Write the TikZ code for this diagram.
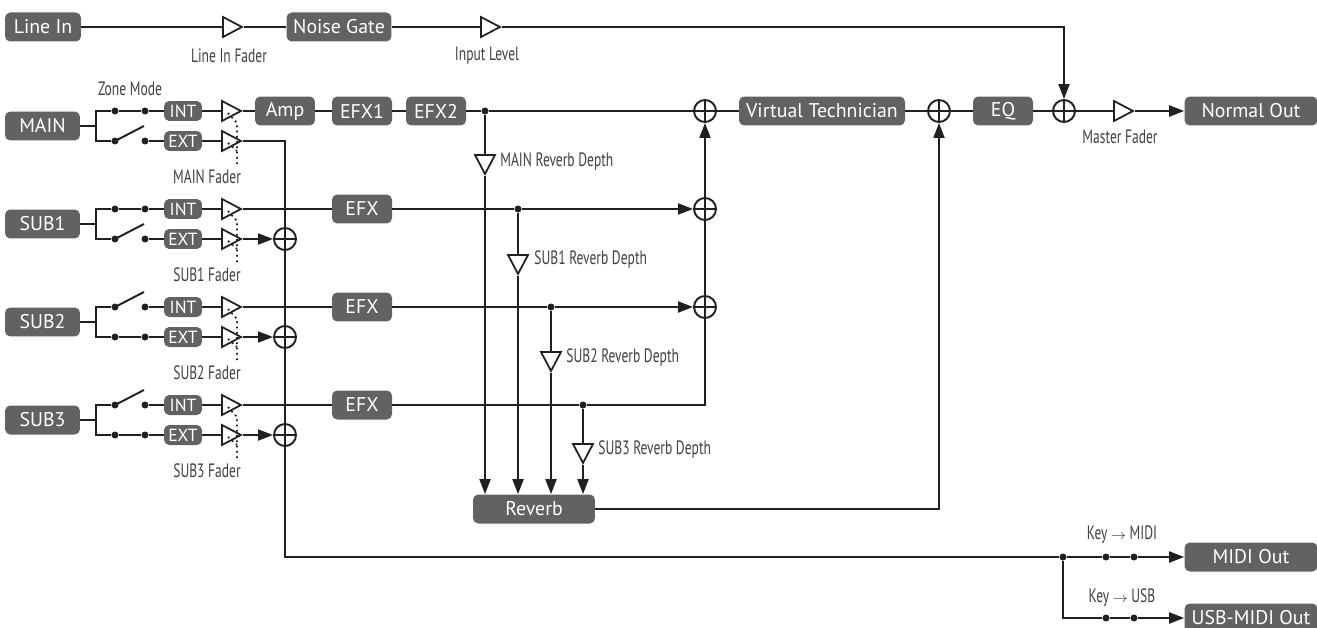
\documentclass[tikz,border=0pt]{standalone}
\usepackage{fontspec}
\setmainfont{PT Sans}
\newfontfamily\lblfont[FakeStretch=0.7]{PT Sans}
\usepackage{tikz}
\usetikzlibrary{shapes.geometric, arrows.meta, positioning, calc}
\definecolor{boxgray}{RGB}{98,98,98}
\definecolor{mydark}{RGB}{35,31,32}
\definecolor{lblgray}{RGB}{64,64,66}
\tikzset{
  block/.style={rectangle, fill=boxgray, text=white, align=center,
    minimum height=0.58cm, inner sep=0pt,
    font=\fontsize{11.3}{12}\selectfont, rounded corners=3pt},
  modebox/.style={rectangle, fill=boxgray, text=white, minimum width=0.76cm,
    minimum height=0.4cm, inner sep=0pt,
    font=\fontsize{10}{10}\selectfont, rounded corners=3pt},
  fader/.style={isosceles triangle, isosceles triangle stretches, draw=mydark,
    fill=white, line width=1pt, minimum width=0.4cm, minimum height=0.38cm,
    inner sep=0pt},
  dfader/.style={fader, shape border rotate=270},
  sumjunc/.style={circle, draw=mydark, fill=white, line width=1.1pt,
    minimum size=0.44cm, inner sep=0pt,
    path picture={\draw[mydark, line width=1.1pt]
      (path picture bounding box.north) -- (path picture bounding box.south)
      (path picture bounding box.west) -- (path picture bounding box.east);}},
  dot/.style={circle, fill=mydark, inner sep=0pt, minimum size=0.14cm},
  lbl/.style={font=\lblfont\fontsize{11}{12}\selectfont, text=lblgray, inner sep=0pt},
  arrow/.style={-{Triangle[length=0.3cm, width=0.22cm]}, line width=1.1pt, color=mydark},
  line/.style={line width=1.1pt, color=mydark},
  linkdot/.style={dotted, line width=1pt, color=mydark}
}
\begin{document}
\begin{tikzpicture}[x=0.02cm, y=-0.02cm]
  \useasboundingbox (0,0) rectangle (1317,628);

  % line input
  \node[block, minimum width=1.52cm] (linein) at (43,27) {Line In};
  \node[fader] (lfader) at (229,27) {};
  \node[block, minimum width=2.1cm] (ngate) at (339,27) {Noise Gate};
  \node[fader] (ilevel) at (487,27) {};
  \node[lbl] at (229,56) {Line In Fader};
  \node[lbl] at (487,56) {Input Level};

  % zone channels
  \node[lbl] at (130,89) {Zone Mode};
  \foreach \ch/\name/\y/\intsw in {0/MAIN/111/1, 1/SUB1/209/1, 2/SUB2/307/0, 3/SUB3/405/0}{
    \node[block, minimum width=1.5cm] (ch\ch) at (42.5,\y+15) {\name};
    \coordinate (sp\ch) at (96,\y+15);
    \node[dot] (ia\ch) at (115,\y) {};
    \node[dot] (ib\ch) at (145,\y) {};
    \node[dot] (ea\ch) at (115,\y+30) {};
    \node[dot] (eb\ch) at (145,\y+30) {};
    \coordinate (il\ch) at (144,\y-15);
    \coordinate (el\ch) at (144,\y+15);
    \node[modebox] (int\ch) at (183,\y) {INT};
    \node[modebox] (ext\ch) at (183,\y+30) {EXT};
    \node[fader] (intf\ch) at (228,\y) {};
    \node[fader] (extf\ch) at (228,\y+30) {};
    \node[lbl] at (207,\y+66) {\name\ Fader};
    \draw[line] (ch\ch) -- (sp\ch);
    \draw[line] (ia\ch) -| (sp\ch) |- (ea\ch);
    \ifnum\intsw=1
      \draw[line] (ia\ch) -- (ib\ch);
      \draw[line] (ea\ch.center) -- (el\ch);
    \else
      \draw[line] (ia\ch.center) -- (il\ch);
      \draw[line] (ea\ch) -- (eb\ch);
    \fi
    \draw[line] (ib\ch) -- (int\ch) -- (intf\ch);
    \draw[line] (eb\ch) -- (ext\ch) -- (extf\ch);
    \draw[linkdot] (intf\ch.center) ++(0,2) -- ++(9,10) -- (237,\y+55);
    \draw[linkdot] (extf\ch.center) ++(0,2) -- ++(9,8);
  }

  % main path
  \node[block, minimum width=1.2cm] (amp) at (285,111) {Amp};
  \node[block, minimum width=1.2cm] (efx1) at (362,111) {EFX1};
  \node[block, minimum width=1.2cm] (efx2) at (436,111) {EFX2};
  \node[dot] (mdot) at (485,111) {};
  \node[sumjunc] (vsum) at (705,111) {};
  \node[block, minimum width=3.32cm] (vtech) at (822,111) {Virtual Technician};
  \node[sumjunc] (rvsum) at (939,111) {};
  \node[block, minimum width=1.2cm] (eq) at (1003,111) {EQ};
  \node[sumjunc] (osum) at (1064,111) {};
  \node[fader] (mfader) at (1120,111) {};
  \node[lbl] at (1120,137) {Master Fader};
  \node[block, minimum width=2.66cm] (nout) at (1251,111) {Normal Out};

  % sub effects
  \node[block, minimum width=1.2cm] (efxa) at (362,209) {EFX};
  \node[block, minimum width=1.2cm] (efxb) at (362,307) {EFX};
  \node[block, minimum width=1.2cm] (efxc) at (362,405) {EFX};
  \node[dot] (rdot1) at (518,209) {};
  \node[dot] (rdot2) at (551,307) {};
  \node[dot] (rdot3) at (583,405) {};
  \node[sumjunc] (ssum1) at (705,209) {};
  \node[sumjunc] (ssum2) at (705,307) {};
  \node[sumjunc] (esum1) at (285,239) {};
  \node[sumjunc] (esum2) at (285,337) {};
  \node[sumjunc] (esum3) at (285,435) {};

  % reverb
  \node[dfader] (rd0) at (485,161) {};
  \node[dfader] (rd1) at (518,261) {};
  \node[dfader] (rd2) at (551,358) {};
  \node[dfader] (rd3) at (583,450) {};
  \node[lbl, anchor=west] at (500,162) {MAIN Reverb Depth};
  \node[lbl, anchor=west] at (534,260) {SUB1 Reverb Depth};
  \node[lbl, anchor=west] at (566,358) {SUB2 Reverb Depth};
  \node[lbl, anchor=west] at (598,450) {SUB3 Reverb Depth};
  \node[block, minimum width=2.44cm] (reverb) at (534,509) {Reverb};

  % midi outputs
  \node[dot] (kdot) at (1063,557) {};
  \node[dot] (ka) at (1106,557) {};
  \node[dot] (kb) at (1134,557) {};
  \node[dot] (ua) at (1106,618) {};
  \node[dot] (ub) at (1134,618) {};
  \node[block, minimum width=2.66cm] (midi) at (1251,557) {MIDI Out};
  \node[block, minimum width=2.66cm] (usb) at (1251,618) {USB-MIDI Out};
  \node[lbl] at (1122,535) {Key {\normalfont\footnotesize$\rightarrow$} MIDI};
  \node[lbl] at (1122,598) {Key {\normalfont\footnotesize$\rightarrow$} USB};

  \draw[line] (linein) -- (lfader) -- (ngate) -- (ilevel);
  \draw[arrow] (ilevel) -| (osum);
  \draw[line] (intf0) -- (amp) -- (efx1) -- (efx2) -- (mdot) -- (vsum) -- (vtech)
    -- (rvsum) -- (eq) -- (osum) -- (mfader);
  \draw[arrow] (mfader) -- (nout);

  \draw[line] (intf1) -- (efxa) -- (rdot1);
  \draw[arrow] (rdot1) -- (ssum1);
  \draw[line] (intf2) -- (efxb) -- (rdot2);
  \draw[arrow] (rdot2) -- (ssum2);
  \draw[line] (intf3) -- (efxc) -- (rdot3) -| (ssum2);
  \draw[line] (ssum2) -- (ssum1);
  \draw[arrow] (ssum1) -- (vsum);

  \draw[line] (extf0) -| (esum1);
  \draw[arrow] (extf1) -- (esum1);
  \draw[arrow] (extf2) -- (esum2);
  \draw[arrow] (extf3) -- (esum3);
  \draw[line] (esum1) -- (esum2) -- (esum3);
  \draw[line] (esum3) |- (kdot);
  \draw[line] (kdot) -- (ka) -- (kb);
  \draw[arrow] (kb) -- (midi);
  \draw[line] (kdot) |- (ua) -- (ub);
  \draw[arrow] (ub) -- (usb);

  \draw[line] (mdot) -- (rd0);
  \draw[line] (rdot1) -- (rd1);
  \draw[line] (rdot2) -- (rd2);
  \draw[line] (rdot3) -- (rd3);
  \draw[arrow] (rd0) -- (rd0 |- reverb.north);
  \draw[arrow] (rd1) -- (rd1 |- reverb.north);
  \draw[arrow] (rd2) -- (rd2 |- reverb.north);
  \draw[arrow] (rd3) -- (rd3 |- reverb.north);
  \draw[arrow] (reverb) -| (rvsum);
\end{tikzpicture}
\end{document}
